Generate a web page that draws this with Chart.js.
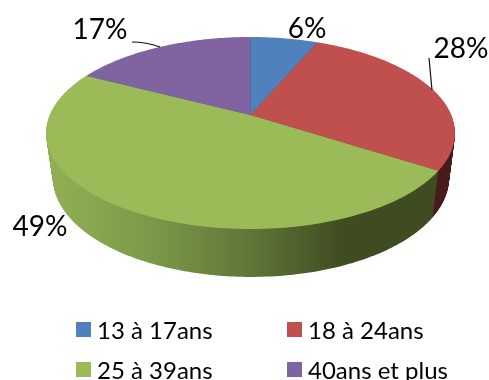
<!DOCTYPE html>
<html>
<head>
<meta charset="utf-8">
<script src="https://cdn.jsdelivr.net/npm/chart.js@4"></script>
<style>
	html, body { margin: 0; background: #fff; overflow: hidden; }
	#wrap { position: relative; width: 489px; height: 380px; overflow: hidden; }
	#mycanvas { position: absolute; left: 0; top: 0; }
	#legend { position: absolute; left: 76px; top: 317px; display: grid; grid-template-columns: 211px 190px; grid-auto-rows: 40px; font: 24px Lato, sans-serif; color: #000; }
	#legend div { display: flex; align-items: center; height: 24px; white-space: nowrap; }
	#legend i { display: block; width: 15px; height: 15px; margin-right: 6px; }
</style>
</head>
<body>
<div id="wrap">
	<canvas id="mycanvas" width="489" height="380"></canvas>
	<div id="legend"></div>
</div>
<script>
var categories = ["13 à 17ans", "18 à 24ans", "25 à 39ans", "40ans et plus"];
var shares = [6.4, 27.7, 48.5, 17.4];
var sliceColors = ["#4f81bd", "#c0504d", "#9bbb59", "#8064a2"];
var wallColors = [
	["#3a5f8c", "#2c4769"],
	["#6e2a28", "#481a1a"],
	["#8fae52", "#7a9848", "#5f7638", "#3f4b21", "#3f4b21"],
	["#5e4a78", "#4b3b60"]
];
var labelSpots = [[307, 29], [461, 49], [40, 227], [100, 30]];

// perspective of the pie: top face and bottom rim
var top3d = {cx: 250.5, cy: 115, bx: 200.8, by: 92.6, k: -0.1875};
var bottom3d = {cx: 251, cy: 159.4, bx: 194.5, by: 95.5, k: -0.1875};
var wallLayers = 60;

function project(p, a) {
	var u = Math.cos(a), v = Math.sin(a), d = 1 + p.k * v;
	return [p.cx + p.bx * u / d, p.cy + p.by * v / d];
}

function between(t) {
	var p = {k: top3d.k};
	["cx", "cy", "bx", "by"].forEach(function(key) {
		p[key] = bottom3d[key] + (top3d[key] - bottom3d[key]) * t;
	});
	return p;
}

function wedge(ctx, p, arc) {
	var n = Math.max(2, Math.ceil((arc.endAngle - arc.startAngle) * 60));
	ctx.beginPath();
	ctx.moveTo(p.cx, p.cy);
	for (var i = 0; i <= n; i++) {
		var pt = project(p, arc.startAngle + (arc.endAngle - arc.startAngle) * i / n);
		ctx.lineTo(pt[0], pt[1]);
	}
	ctx.closePath();
	ctx.fill();
}

var pie3d = {
	id: "pie3d",
	beforeDatasetDraw: function(chart) {
		var ctx = chart.ctx;
		var arcs = chart.getDatasetMeta(0).data;
		var walls = wallColors.map(function(stops) {
			var g = ctx.createLinearGradient(60, 0, 440, 0);
			stops.forEach(function(c, j) {
				g.addColorStop(j / (stops.length - 1), c);
			});
			return g;
		});
		ctx.save();
		// stack the slices from the bottom rim upward, then the top face
		for (var l = 0; l < wallLayers; l++) {
			var p = between(l / wallLayers);
			arcs.forEach(function(arc, i) {
				ctx.fillStyle = walls[i];
				wedge(ctx, p, arc);
			});
		}
		arcs.forEach(function(arc, i) {
			ctx.fillStyle = sliceColors[i];
			wedge(ctx, top3d, arc);
		});
		ctx.restore();
		return false;
	},
	afterDatasetsDraw: function(chart) {
		var ctx = chart.ctx;
		ctx.save();
		ctx.strokeStyle = "#111";
		ctx.lineWidth = 1.2;
		ctx.beginPath();
		ctx.moveTo(132, 42);
		ctx.quadraticCurveTo(146, 42, 160, 47);
		ctx.moveTo(429, 58);
		ctx.lineTo(432, 90);
		ctx.stroke();
		ctx.font = "28px Lato, sans-serif";
		ctx.fillStyle = "#000";
		ctx.textAlign = "center";
		ctx.textBaseline = "middle";
		shares.forEach(function(s, i) {
			ctx.fillText(Math.round(s) + "%", labelSpots[i][0], labelSpots[i][1]);
		});
		ctx.restore();
	}
};

var legend = document.getElementById("legend");
categories.forEach(function(name, i) {
	var item = document.createElement("div");
	var box = document.createElement("i");
	box.style.background = sliceColors[i];
	item.appendChild(box);
	item.appendChild(document.createTextNode(name));
	legend.appendChild(item);
});

var pie = new Chart(document.getElementById("mycanvas"), {
	type: "pie",
	data: {
		labels: categories,
		datasets: [{data: shares, backgroundColor: sliceColors, borderWidth: 0}]
	},
	options: {
		responsive: false,
		animation: false,
		plugins: {legend: {display: false}, tooltip: {enabled: false}}
	},
	plugins: [pie3d]
});
</script>
</body>
</html>
